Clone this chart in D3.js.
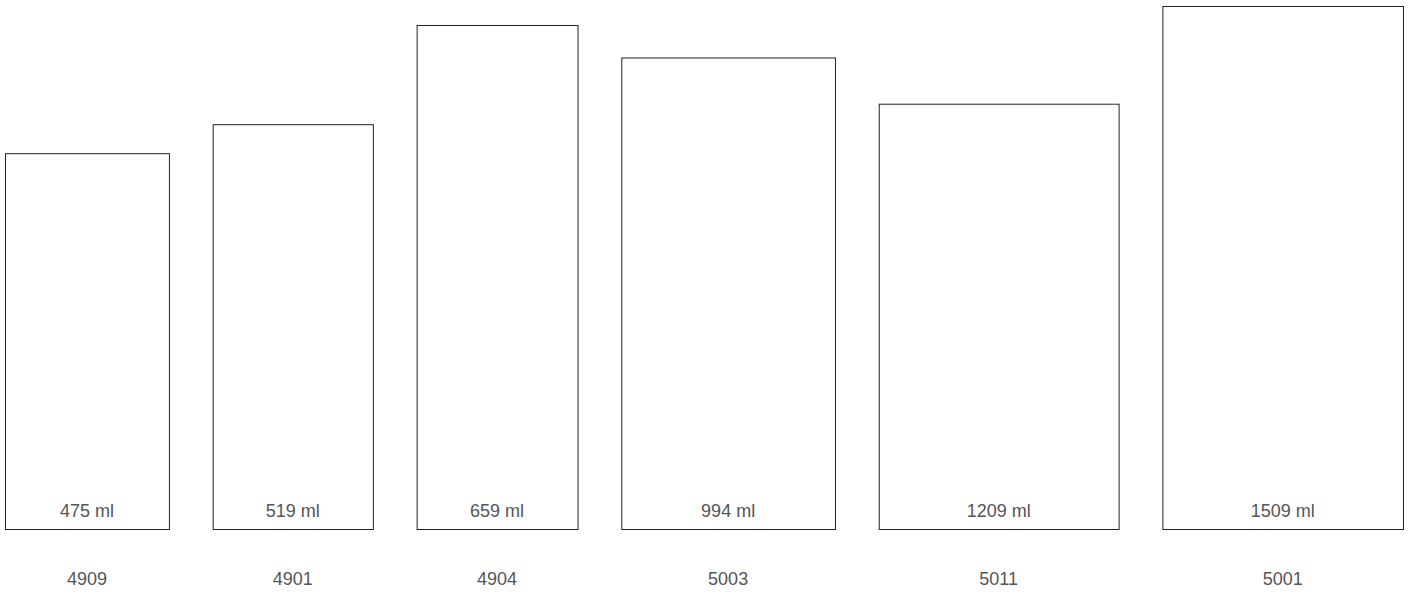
<!DOCTYPE html>
<html>
<head>
<meta charset="utf-8">
<script src="https://cdn.jsdelivr.net/npm/d3@7"></script>
<style>
  body { margin: 0; background: #fff; }
  text { font-family: "Helvetica Neue", "Liberation Sans", Arial, sans-serif; font-weight: 300; fill: #555; }
</style>
</head>
<body>
<div class="chart"></div>
<script>
var svgWidth = 1409;
var svgHeight = 600;

var margin = { top: 6, right: 6, bottom: 71, left: 5 };

var width = svgWidth - margin.left - margin.right;
var height = svgHeight - margin.top - margin.bottom;

// Data: cup model, volume, diameter (mm), height (mm)
var models = ["4909", "4901", "4904", "5003", "5011", "5001"];
var volumes = [475, 519, 659, 994, 1209, 1509];
var diameters = [65.6, 64.1, 64.4, 85.5, 96, 96.3];
var heights = [150.4, 162, 201.7, 188.7, 170.2, 209.3];

var cups = models.map(function(m, i) {
  return { model: m, volume: volumes[i], d: diameters[i], h: heights[i] };
});

var svg = d3.select(".chart")
  .append("svg")
  .attr("width", svgWidth)
  .attr("height", svgHeight);

var chartGroup = svg.append("g")
  .attr("transform", `translate(${margin.left}, ${margin.top})`);

// Same mm -> px factor for both directions
var yScale = d3.scaleLinear()
  .domain([0, d3.max(heights)])
  .range([height, 0]);
var k = height / d3.max(heights);

// lay cups side by side with an even gap
var totalW = d3.sum(cups, d => d.d * k);
var gap = (width - totalW) / (cups.length - 1);
var x0 = 0;
cups.forEach(function(c) {
  c.x = x0;
  c.w = c.d * k;
  x0 += c.w + gap;
});

chartGroup.selectAll("rect")
  .data(cups)
  .enter()
  .append("rect")
  .attr("x", d => d.x + 0.5)
  .attr("y", d => yScale(d.h) + 0.5)
  .attr("width", d => d.w)
  .attr("height", d => height - yScale(d.h))
  .attr("fill", "#fff")
  .attr("stroke", "#222")
  .attr("stroke-width", 1);

chartGroup.selectAll(".vol")
  .data(cups)
  .enter()
  .append("text")
  .attr("class", "vol")
  .attr("x", d => d.x + d.w / 2)
  .attr("y", height - 12)
  .attr("text-anchor", "middle")
  .style("font-size", "18px")
  .text(d => d.volume + " ml");

chartGroup.selectAll(".model")
  .data(cups)
  .enter()
  .append("text")
  .attr("class", "model")
  .attr("x", d => d.x + d.w / 2)
  .attr("y", height + 56)
  .attr("text-anchor", "middle")
  .style("font-size", "18px")
  .text(d => d.model);
</script>
</body>
</html>
